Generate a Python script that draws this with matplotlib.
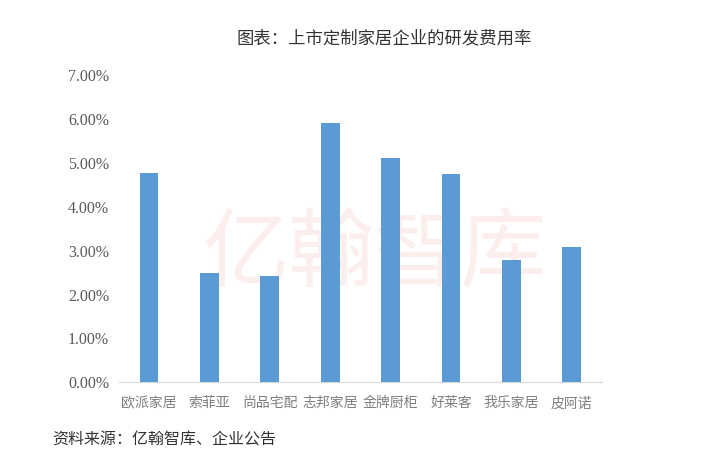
import numpy as np
import matplotlib.pyplot as plt
from matplotlib.ticker import FuncFormatter

# R&D expense ratio of listed custom furniture companies
companies = ['欧派家居', '索菲亚', '尚品宅配', '志邦家居', '金牌厨柜', '好莱客', '我乐家居', '皮阿诺']
rd_ratio = [4.77, 2.49, 2.41, 5.90, 5.11, 4.75, 2.79, 3.08]
yticks = [0, 1, 2, 3, 4, 5, 6, 7]

plt.rcParams['font.family'] = ['Noto Sans CJK SC', 'DejaVu Sans']

fig = plt.figure(figsize=(7.2, 4.68), dpi=100)
ax = fig.add_axes([0.165, 0.183, 0.671, 0.657])

x = np.arange(len(companies))
ax.bar(x, rd_ratio, width=0.31, color='#5B9BD5', zorder=3)

# faint watermark
ax.text(0.53, 0.41, '亿翰智库', transform=ax.transAxes, fontsize=62,
        color='#fdeeee', ha='center', va='center', zorder=1)

ax.set_xlim(-0.5, len(companies) - 0.5)
ax.set_ylim(0, 7)
ax.set_yticks(yticks)
ax.yaxis.set_major_formatter(FuncFormatter(lambda v, p: '%.2f%%' % v))
ax.tick_params(axis='y', length=0, labelsize=11.5, labelcolor='#595959', pad=7,
               labelfontfamily='Liberation Serif')
ax.set_xticks(x)
ax.set_xticklabels(companies)
ax.tick_params(axis='x', length=0, labelsize=10, labelcolor='#7f7f7f', pad=10)

for s in ['top', 'right', 'left']:
    ax.spines[s].set_visible(False)
ax.spines['bottom'].set_color('#d9d9d9')

fig.text(0.533, 0.918, '图表：上市定制家居企业的研发费用率', ha='center', va='center',
         fontsize=12.5, color='#333333')
fig.text(0.072, 0.06, '资料来源：亿翰智库、企业公告', ha='left', va='center',
         fontsize=11.5, color='#333333')

fig.savefig('out.png', dpi=100)
